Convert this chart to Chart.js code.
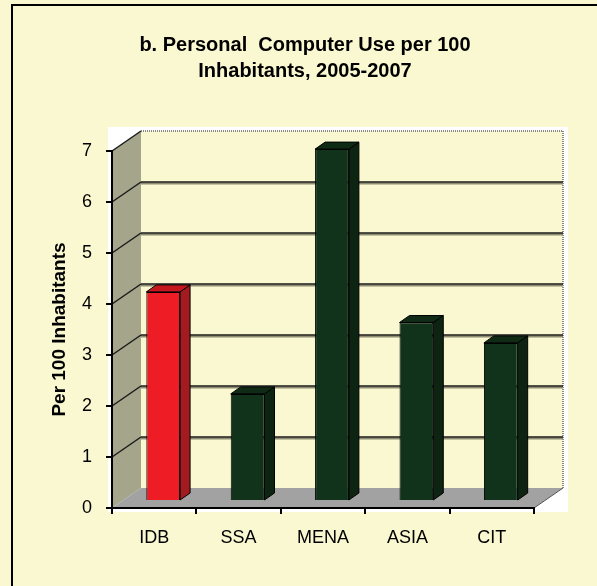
<!DOCTYPE html>
<html>
<head>
<meta charset="utf-8">
<script src="https://cdn.jsdelivr.net/npm/chart.js@4.4.0/dist/chart.umd.min.js"></script>
<style>
  html, body { margin: 0; padding: 0; background: #FAF8D0; }
  #wrap { width: 597px; height: 586px; }
</style>
</head>
<body>
<div id="wrap"><canvas id="grafico" width="597" height="586"></canvas></div>
<script>
const categorias = ['IDB', 'SSA', 'MENA', 'ASIA', 'CIT'];
const usoPC = [4.1, 2.1, 6.9, 3.5, 3.1];
const tituloLineas = ['b. Personal  Computer Use per 100', 'Inhabitants, 2005-2007'];
const tituloEje = 'Per 100 Inhabitants';
const yMin = 0;
const yMax = 7;
const yPaso = 1;

// profundidad de la pared y de las barras
const PARED = { dx: 29, dy: -20 };
const BARRA = { dx: 10, dy: -7 };
const DESPL = { dx: 9, dy: -7 };

const fuente = "'Liberation Sans', Arial, sans-serif";

const colores = {
    rojo: { frente: '#EE1D25', lado: '#A11B20', tapa: '#C4181E' },
    verde: { frente: '#12331B', lado: '#0C2411', tapa: '#0F2B16' }
};
const colorBarra = (i) => i === 0 ? colores.rojo : colores.verde;

function poligono(ctx, pts, relleno, borde) {
    ctx.beginPath();
    ctx.moveTo(pts[0][0], pts[0][1]);
    for (let k = 1; k < pts.length; k++) ctx.lineTo(pts[k][0], pts[k][1]);
    ctx.closePath();
    ctx.fillStyle = relleno;
    ctx.fill();
    if (borde) {
        ctx.strokeStyle = borde;
        ctx.lineWidth = 1;
        ctx.stroke();
    }
}

const fondo3d = {
    id: 'fondo3d',
    beforeDraw(chart) {
        const { ctx, chartArea: a, scales: { y } } = chart;
        ctx.save();

        // marco exterior
        ctx.strokeStyle = '#000';
        ctx.lineWidth = 2;
        ctx.strokeRect(12, 5, 700, 700);

        // panel blanco
        ctx.fillStyle = '#FFFFFF';
        ctx.fillRect(a.left - 4, a.top - 24, a.right - a.left + PARED.dx + 9, a.bottom - a.top + 28);

        // pared de fondo
        const bl = a.left + PARED.dx, br = a.right + PARED.dx;
        const bt = a.top + PARED.dy, bb = a.bottom + PARED.dy;
        ctx.fillStyle = '#FAF8D0';
        ctx.fillRect(bl, bt, br - bl, bb - bt);
        ctx.setLineDash([1, 1]);
        ctx.strokeStyle = '#888';
        ctx.lineWidth = 2;
        ctx.beginPath();
        ctx.moveTo(bl, bt);
        ctx.lineTo(br, bt);
        ctx.lineTo(br, bb);
        ctx.stroke();
        ctx.setLineDash([]);

        // pared lateral
        poligono(ctx, [[a.left, a.top], [bl, bt], [bl, bb], [a.left, a.bottom]], '#A5A58B');

        // piso
        poligono(ctx, [[a.left, a.bottom], [a.right, a.bottom], [br, bb], [bl, bb]], '#A2A2A2');
        ctx.strokeStyle = '#555';
        ctx.lineWidth = 1;
        ctx.beginPath();
        ctx.moveTo(a.right, a.bottom);
        ctx.lineTo(br, bb);
        ctx.stroke();

        // lineas de la cuadricula
        for (let v = yMin + yPaso; v <= yMax; v += yPaso) {
            const yp = y.getPixelForValue(v);
            if (v < yMax) {
                ctx.strokeStyle = '#8C8C72';
                ctx.lineWidth = 2;
                ctx.beginPath();
                ctx.moveTo(bl, yp + PARED.dy + 1.5);
                ctx.lineTo(br, yp + PARED.dy + 1.5);
                ctx.stroke();
                ctx.strokeStyle = '#1A1A1A';
                ctx.lineWidth = 1.5;
                ctx.beginPath();
                ctx.moveTo(bl, yp + PARED.dy);
                ctx.lineTo(br, yp + PARED.dy);
                ctx.stroke();
            }
            ctx.strokeStyle = '#1A1A1A';
            ctx.lineWidth = 1.5;
            ctx.beginPath();
            ctx.moveTo(a.left, yp);
            ctx.lineTo(bl, yp + PARED.dy);
            ctx.stroke();
        }
        ctx.restore();
    },
    beforeDatasetsDraw(chart) {
        chart.ctx.save();
        chart.ctx.translate(DESPL.dx, DESPL.dy);
    },
    afterDatasetsDraw(chart) {
        const ctx = chart.ctx;
        const meta = chart.getDatasetMeta(0);
        meta.data.forEach((barra, i) => {
            const { x, y, base, width } = barra.getProps(['x', 'y', 'base', 'width'], true);
            const l = x - width / 2, r = x + width / 2;
            const c = colorBarra(i);
            poligono(ctx, [[r, y], [r + BARRA.dx, y + BARRA.dy], [r + BARRA.dx, base + BARRA.dy], [r, base]], c.lado, '#000');
            poligono(ctx, [[l, y], [l + BARRA.dx, y + BARRA.dy], [r + BARRA.dx, y + BARRA.dy], [r, y]], c.tapa, '#000');
        });
        ctx.restore();
    },
    afterDraw(chart) {
        const ctx = chart.ctx;
        ctx.save();
        ctx.fillStyle = '#000';
        ctx.font = 'bold 20px ' + fuente;
        ctx.textAlign = 'center';
        ctx.textBaseline = 'middle';
        tituloLineas.forEach((linea, k) => ctx.fillText(linea, 305, 45 + k * 26));
        ctx.restore();
    }
};

new Chart(document.getElementById('grafico'), {
    type: 'bar',
    data: {
        labels: categorias,
        datasets: [{
            data: usoPC,
            backgroundColor: (c) => colorBarra(c.dataIndex).frente,
            borderColor: '#000',
            borderWidth: 1,
            barPercentage: 0.4,
            categoryPercentage: 1,
            clip: false
        }]
    },
    options: {
        responsive: false,
        animation: false,
        layout: { padding: { top: 151, right: 63, left: 0, bottom: 0 } },
        plugins: {
            legend: { display: false },
            title: { display: false },
            tooltip: { enabled: false }
        },
        scales: {
            x: {
                grid: { offset: true, drawOnChartArea: false, tickLength: 6, color: '#000', lineWidth: 2 },
                border: { color: '#000', width: 2 },
                ticks: { color: '#000', font: { family: fuente, size: 18 }, padding: 13 },
                afterFit: (s) => { s.height = 78; }
            },
            y: {
                min: yMin,
                max: yMax,
                ticks: { stepSize: yPaso, color: '#000', font: { family: fuente, size: 18 }, padding: 14 },
                grid: { drawOnChartArea: false, tickLength: 6, color: '#000', lineWidth: 2 },
                border: { color: '#000', width: 2 },
                title: {
                    display: true,
                    text: tituloEje,
                    color: '#000',
                    font: { family: fuente, size: 19, weight: 'bold' },
                    padding: { top: 48, bottom: 0 }
                },
                afterFit: (s) => { s.width = 112; }
            }
        }
    },
    plugins: [fondo3d]
});
</script>
</body>
</html>
